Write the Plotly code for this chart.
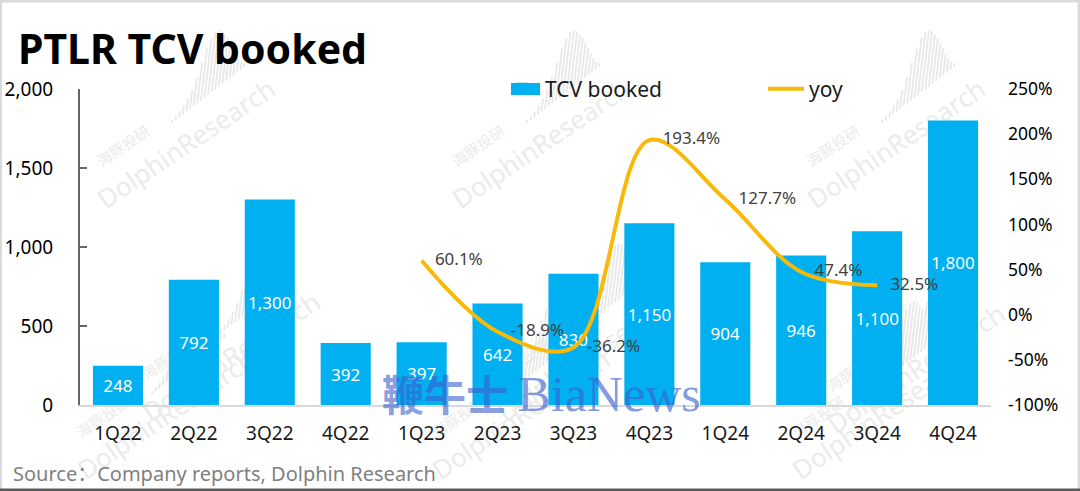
import plotly.graph_objects as go

W, H = 1080, 491
# plot area in pixels
L, R, T, B = 80, 991, 89, 405

quarters = ['1Q22', '2Q22', '3Q22', '4Q22', '1Q23', '2Q23', '3Q23', '4Q23', '1Q24', '2Q24', '3Q24', '4Q24']
tcv_booked = [248, 792, 1300, 392, 397, 642, 830, 1150, 904, 946, 1100, 1800]
yoy = [None, None, None, None, 60.1, -18.9, -36.2, 193.4, 127.7, 47.4, 32.5, None]
yoy_labels = ['', '', '', '', '60.1%', '-18.9%', '-36.2%', '193.4%', '127.7%', '47.4%', '32.5%', '']
left_ticks = [0, 500, 1000, 1500, 2000]
right_ticks = [-100, -50, 0, 50, 100, 150, 200, 250]
right_tick_text = ['-100%', '-50%', '0%', '50%', '100%', '150%', '200%', '250%']

FONT = 'Noto Sans'
CJK = 'Noto Sans CJK SC'


def px(x):
    return (x - L) / (R - L)


def py(y):
    return (B - y) / (B - T)


fig = go.Figure()
fig.add_trace(go.Bar(
    x=quarters, y=tcv_booked, name='TCV booked', marker=dict(color='#00B0F0', line_width=0),
    text=[f'{v:,}' for v in tcv_booked], textposition='inside', insidetextanchor='middle',
    textangle=0, constraintext='none', textfont=dict(color='white', size=17, family=FONT),
    hoverinfo='skip',
))
fig.add_trace(go.Scatter(
    x=quarters, y=yoy, name='yoy', yaxis='y2', mode='lines+text',
    line=dict(color='#F9B90B', width=4, shape='spline', smoothing=1.0),
    # no-break spaces push the label clear of the point
    text=['\u00a0\u00a0\u00a0' + t if t else '' for t in yoy_labels], textposition='middle right',
    textfont=dict(color='#404040', size=17, family=FONT), hoverinfo='skip',
))

# background watermark, drawn under the bars
wm_offsets = [(0, 0), (355, 0), (710, 0), (45, 213), (400, 213), (730, 225), (-20, 271), (335, 271), (695, 271)]
wm_heights = [3, 4, 6, 9, 13, 19, 29, 41, 52, 60, 63, 62, 58, 52, 46, 38, 30, 22, 14, 8, 4]
shapes = []
for dx, dy in wm_offsets:
    for text, cx, cy, size, font, half in [('DolphinResearch', 187, 145, 26, 'Noto Sans', 100),
                                           ('海豚投研', 124, 147, 15, CJK, 35)]:
        shapes.append(dict(
            type='rect', xref='paper', yref='paper', layer='below',
            x0=px(cx + dx - half), x1=px(cx + dx + half), y0=py(cy + dy + 20), y1=py(cy + dy - 20),
            line_width=0, fillcolor='rgba(0,0,0,0)',
            label=dict(text=text, textangle=-34, textposition='middle center',
                       font=dict(size=size, color='#ebebeb', family=font)),
        ))
    for n, h in enumerate(wm_heights):
        x0 = 172 + dx + n * 3.6
        y0 = 123 + dy - n * 2.8
        shapes.append(dict(
            type='line', xref='paper', yref='paper', layer='below',
            x0=px(x0), y0=py(y0), x1=px(x0 + h * 0.12), y1=py(y0 - h),
            line=dict(color='#e8e8e8', width=1.8),
        ))

# picture frame and the wider legend swatch
shapes += [
    dict(type='rect', xref='paper', yref='paper', x0=px(0), x1=px(W), y0=py(2.5), y1=py(0), fillcolor='#d9d9d9', line_width=0),
    dict(type='rect', xref='paper', yref='paper', x0=px(0), x1=px(2), y0=py(H), y1=py(0), fillcolor='#d9d9d9', line_width=0),
    dict(type='rect', xref='paper', yref='paper', x0=px(W - 2.5), x1=px(W), y0=py(H), y1=py(0), fillcolor='#d9d9d9', line_width=0),
    dict(type='rect', xref='paper', yref='paper', x0=px(0), x1=px(W), y0=py(H), y1=py(H - 2.5), fillcolor='#595959', line_width=0),
    dict(type='rect', xref='paper', yref='paper', x0=px(511), x1=px(540), y0=py(95), y1=py(83), fillcolor='#00B0F0', line_width=0),
]

annotations = [
    dict(text='Source：Company reports, Dolphin Research', xref='paper', yref='paper',
         x=px(11), y=py(473), xanchor='left', yanchor='middle', showarrow=False,
         font=dict(size=20, color='#7f7f7f', family=FONT + ', ' + CJK)),
    dict(text='<b>鞭牛士</b> <span style="font-family:Liberation Serif;font-size:50px">BiaNews</span>',
         xref='paper', yref='paper', x=px(541), y=py(392), xanchor='center', yanchor='middle', showarrow=False,
         font=dict(size=42, color='rgba(60,95,205,0.62)', family=CJK)),
]

fig.update_layout(
    width=W, height=H,
    margin=dict(l=L, r=W - R, t=T, b=H - B, autoexpand=False),
    paper_bgcolor='white', plot_bgcolor='rgba(0,0,0,0)',
    bargap=0.34,
    font=dict(family=FONT, color='black', size=19),
    title=dict(text='<b>PTLR TCV booked</b>', x=18 / W, xanchor='left',
               y=1 - 50 / H, yanchor='middle', font=dict(size=41, color='black', family=FONT)),
    xaxis=dict(type='category', categoryorder='array', categoryarray=quarters, range=[-0.5, 11.5],
               showgrid=False, showline=True, linecolor='#d9d9d9', linewidth=1.5, ticks='',
               ticklabelstandoff=10, tickfont=dict(size=19, color='#1a1a1a')),
    yaxis=dict(range=[0, 2000], tickvals=left_ticks, tickformat=',', showgrid=False, zeroline=False,
               showline=True, linecolor='#666666', linewidth=2, ticks='inside', ticklen=7,
               tickcolor='#666666', tickwidth=1.5, ticklabelstandoff=21,
               tickfont=dict(size=19, color='black')),
    yaxis2=dict(range=[-100, 250], tickvals=right_ticks, ticktext=right_tick_text, overlaying='y', side='right',
                showgrid=False, zeroline=False, showline=False, ticks='', ticklabelstandoff=16,
                tickfont=dict(size=17.5, color='black')),
    legend=dict(orientation='h', x=px(499), y=py(89), xanchor='left', yanchor='middle',
                itemwidth=36, entrywidth=213, entrywidthmode='pixels', font=dict(size=21, color='#1a1a1a'),
                bgcolor='rgba(0,0,0,0)', traceorder='normal'),
    shapes=shapes,
    annotations=annotations,
)

# the page's default body margin would shift the chart by 8 px
fig.write_html('out.html', config={'displayModeBar': False}, post_script="document.body.style.margin='0';")
